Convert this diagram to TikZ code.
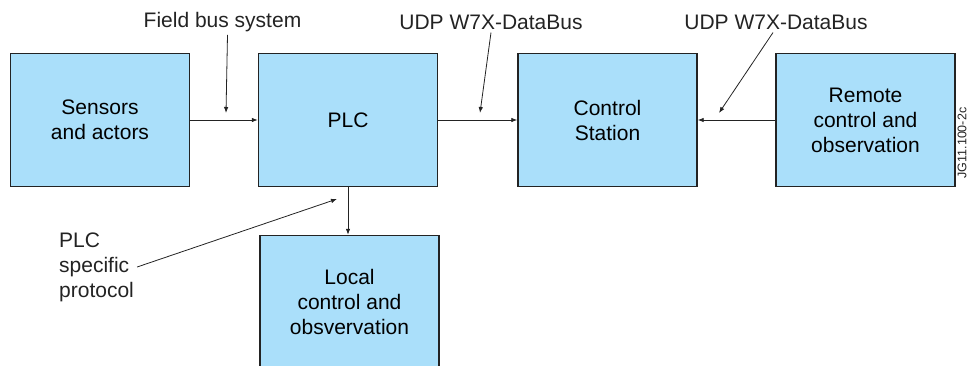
\documentclass[tikz,border=0pt]{standalone}
\usepackage{fontspec}
\setmainfont{Liberation Sans}
\usetikzlibrary{arrows.meta}
\definecolor{boxblue}{RGB}{170,223,250}
\definecolor{ink}{RGB}{35,35,35}

\begin{document}
\begin{tikzpicture}[x=1pt, y=-1pt,
    block/.style={draw=ink, line width=1.4pt, fill=boxblue, minimum width=179pt,
        minimum height=133pt, align=center, font=\fontsize{21}{25}\selectfont},
    busname/.style={text=ink, inner sep=3pt, font=\fontsize{21}{25}\selectfont},
    link/.style={draw=ink, line width=0.8pt, -{Latex[length=6pt,width=4.5pt]}}]
    \useasboundingbox (0,0) rectangle (969,365);
    \clip (0,0) rectangle (969,365);

    % Blocks
    \node[block] (sensors) at (100,120) {Sensors\\and actors};
    \node[block] (plc) at (348,120) {PLC};
    \node[block] (station) at (607.5,120) {Control\\Station};
    \node[block] (remote) at (865.5,120) {Remote\\control and\\observation};
    \node[block] (local) at (349.5,302) {Local\\control and\\obsvervation};

    % Data flow
    \draw[link] (sensors) -- (plc);
    \draw[link] (plc) -- (station);
    \draw[link] (remote) -- (station);
    \draw[link] (plc.south) -- (plc.south |- local.north);

    % Bus names
    \node[busname] (fieldbus) at (222.5,22) {Field bus system};
    \node[busname] (udpleft) at (491,22) {UDP W7X-DataBus};
    \node[busname] (udpright) at (776,22) {UDP W7X-DataBus};
    \node[busname, anchor=west, align=left] (plcproto) at (56,267)
        {PLC\\specific\\protocol};

    \coordinate (fieldtip) at (226,113);
    \coordinate (udplefttip) at (480,113);
    \coordinate (udprighttip) at (719,113);
    \coordinate (plctip) at (337,199);

    \draw[link] ([xshift=5pt]fieldbus.south) -- (fieldtip);
    \draw[link] (udpleft.south) -- (udplefttip);
    \draw[link] ([xshift=-3pt]udpright.south) -- (udprighttip);
    \draw[link] (plcproto.east) -- (plctip);

    % Drawing number
    \node[rotate=90, inner sep=0pt, text=ink, font=\fontsize{12.5}{14}\selectfont]
        (drawno) at (962,143) {JG11.100-2c};
\end{tikzpicture}
\end{document}
